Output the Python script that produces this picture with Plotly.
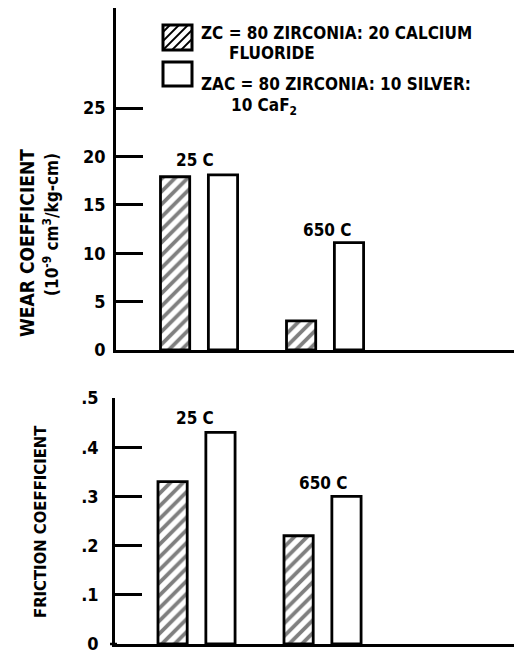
import plotly.graph_objects as go

# ---------------- data ----------------
temps = ["25 C", "650 C"]
series_names = ["ZC", "ZAC"]
wear_zc = [17.9, 3.0]
wear_zac = [18.1, 11.1]
fric_zc = [0.33, 0.22]
fric_zac = [0.43, 0.30]
wear_tickvals = [0, 5, 10, 15, 20, 25]
wear_ticktext = ["0", "5", "10", "15", "20", "25"]
fric_tickvals = [0, 0.1, 0.2, 0.3, 0.4, 0.5]
fric_ticktext = ["0", ".1", ".2", ".3", ".4", ".5"]
legend_zc = ["ZC = 80 ZIRCONIA: 20 CALCIUM", "FLUORIDE"]
legend_zac = ["ZAC = 80 ZIRCONIA: 10 SILVER:", "10 CaF<sub>2</sub>"]
wear_title = "WEAR COEFFICIENT"
wear_units = "(10<sup>-9</sup> cm<sup>3</sup>/kg-cm)"
fric_title = "FRICTION COEFFICIENT"

# ---------------- layout helpers ----------------
PAGE_W, PAGE_H = 522, 655
OFF = 8  # default body margin of the html page
W, H = PAGE_W - OFF, PAGE_H - OFF
FONT = "DejaVu Sans Condensed, DejaVu Sans, sans-serif"


def px(x):
    return (x - OFF) / W


def py(y):
    return 1 - (y - OFF) / H


hatch = dict(shape="/", fgcolor="black", bgcolor="white", size=9, solidity=0.42)
bar_line = dict(color="black", width=2.8)

fig = go.Figure()

# top chart: wear
fig.add_trace(go.Bar(x=temps, y=wear_zc, name=series_names[0], xaxis="x", yaxis="y",
                     marker=dict(color="white", pattern=hatch, line=bar_line)))
fig.add_trace(go.Bar(x=temps, y=wear_zac, name=series_names[1], xaxis="x", yaxis="y",
                     marker=dict(color="white", line=bar_line)))
# bottom chart: friction
fig.add_trace(go.Bar(x=temps, y=fric_zc, name=series_names[0], xaxis="x2", yaxis="y2",
                     marker=dict(color="white", pattern=hatch, line=bar_line)))
fig.add_trace(go.Bar(x=temps, y=fric_zac, name=series_names[1], xaxis="x2", yaxis="y2",
                     marker=dict(color="white", line=bar_line)))

tickfont = dict(family=FONT, size=18, color="black", weight="bold")
axis_common = dict(showline=True, linecolor="black", linewidth=2.5, showgrid=False,
                   zeroline=False, fixedrange=True, automargin=False)

fig.update_layout(
    width=W, height=H,
    margin=dict(l=0, r=0, t=0, b=0),
    paper_bgcolor="white", plot_bgcolor="white",
    showlegend=False,
    barmode="group", bargap=0.24, bargroupgap=0.39,
    xaxis=dict(domain=[px(116), 1], range=[-0.659, 2.563], anchor="y",
               showticklabels=False, ticks="", **axis_common),
    yaxis=dict(domain=[py(350), py(8)], range=[0, 35.33], anchor="x",
               tickvals=wear_tickvals, ticktext=wear_ticktext,
               ticks="inside", ticklen=27, tickwidth=2.5, tickcolor="black",
               tickfont=tickfont, ticklabelstandoff=4, **axis_common),
    xaxis2=dict(domain=[px(115), 1], range=[-0.647, 2.583], anchor="y2",
                showticklabels=False, ticks="", **axis_common),
    yaxis2=dict(domain=[py(644), py(398)], range=[0, 0.5], anchor="x2",
                tickvals=fric_tickvals, ticktext=fric_ticktext,
                ticks="inside", ticklen=27, tickwidth=2.5, tickcolor="black",
                tickfont=tickfont, ticklabelstandoff=10, **axis_common),
)

afont = dict(family=FONT, size=17, color="black", weight="bold")
common = dict(showarrow=False, xanchor="center", yanchor="middle")
ann = []
# temperature labels
ann.append(dict(x=temps[0], y=19.6, xref="x", yref="y", text=temps[0],
                xshift=-4, font=afont, **common))
ann.append(dict(x=temps[1], y=12.4, xref="x", yref="y", text=temps[1],
                xshift=2, font=afont, **common))
ann.append(dict(x=temps[0], y=0.459, xref="x2", yref="y2", text=temps[0],
                xshift=-2, font=afont, **common))
ann.append(dict(x=temps[1], y=0.327, xref="x2", yref="y2", text=temps[1],
                xshift=0, font=afont, **common))
# axis titles
ann.append(dict(x=px(27), y=py(243), xref="paper", yref="paper", text=wear_title,
                textangle=-90, font=dict(afont, size=19), **common))
ann.append(dict(x=px(51), y=py(225), xref="paper", yref="paper", text=wear_units,
                textangle=-90, font=afont, **common))
ann.append(dict(x=px(40), y=py(522), xref="paper", yref="paper", text=fric_title,
                textangle=-90, font=dict(afont, size=16.5), **common))
# legend text
lfont = dict(family=FONT, size=17, color="black", weight="bold")
lcommon = dict(showarrow=False, xanchor="left", yanchor="middle")
ann.append(dict(x=px(199), y=py(33), xref="paper", yref="paper", text=legend_zc[0],
                font=lfont, **lcommon))
ann.append(dict(x=px(227), y=py(53), xref="paper", yref="paper", text=legend_zc[1],
                font=lfont, **lcommon))
ann.append(dict(x=px(199), y=py(84), xref="paper", yref="paper", text=legend_zac[0],
                font=lfont, **lcommon))
ann.append(dict(x=px(229), y=py(106), xref="paper", yref="paper", text=legend_zac[1],
                font=lfont, **lcommon))
fig.update_layout(annotations=ann)

# legend swatches and small baseline stub (style only)
shapes = []
shapes.append(dict(type="line", xref="paper", yref="paper", x0=px(110), x1=px(117),
                   y0=py(644), y1=py(644), line=dict(color="black", width=2.5)))
x0, x1, y0, y1 = 163, 192, 25, 50
shapes.append(dict(type="rect", xref="paper", yref="paper", x0=px(x0), x1=px(x1),
                   y0=py(y1), y1=py(y0), line=dict(color="black", width=3), fillcolor="white"))
step = 9
for k in range(-4, 8):
    c = y1 - k * step  # screen y at x = x0
    ax, ay = x0, c
    bx, by = x1, c - (x1 - x0)
    if ay > y1:
        ax = ax + (ay - y1)
        ay = y1
    if by < y0:
        bx = bx - (y0 - by)
        by = y0
    if bx - ax < 3 or ay < y0 or by > y1:
        continue
    shapes.append(dict(type="line", xref="paper", yref="paper", x0=px(ax), y0=py(ay),
                       x1=px(bx), y1=py(by), line=dict(color="black", width=1.8)))
shapes.append(dict(type="rect", xref="paper", yref="paper", x0=px(163), x1=px(192),
                   y0=py(86), y1=py(62), line=dict(color="black", width=3), fillcolor="white"))
fig.update_layout(shapes=shapes)

fig.write_html("out.html")
